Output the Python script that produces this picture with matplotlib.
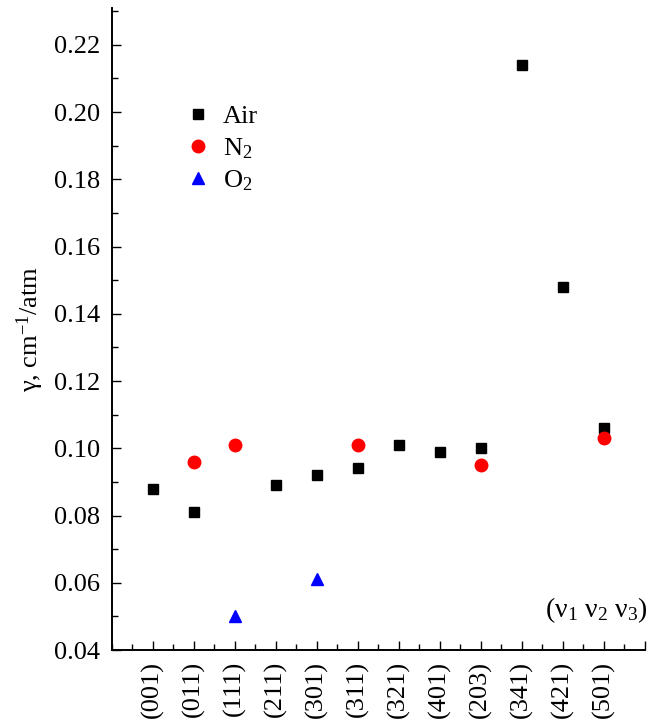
import matplotlib
matplotlib.use("Agg")
import matplotlib.pyplot as plt
from matplotlib.ticker import MultipleLocator, FormatStrFormatter

plt.rcParams['font.family'] = ['Liberation Serif', 'DejaVu Serif']
plt.rcParams['mathtext.fontset'] = 'custom'
plt.rcParams['mathtext.rm'] = 'Liberation Serif'
plt.rcParams['mathtext.it'] = 'Liberation Serif:italic'
plt.rcParams['mathtext.bf'] = 'Liberation Serif:bold'

# Vibrational bands (v1 v2 v3)
bands = ['(001)', '(011)', '(111)', '(211)', '(301)', '(311)',
         '(321)', '(401)', '(203)', '(341)', '(421)', '(501)']

# Broadening coefficients, cm^-1/atm
air_bands = ['(001)', '(011)', '(211)', '(301)', '(311)', '(321)',
             '(401)', '(203)', '(341)', '(421)', '(501)']
air_gamma = [0.088, 0.081, 0.089, 0.092, 0.094, 0.101,
             0.099, 0.100, 0.214, 0.148, 0.106]

n2_bands = ['(011)', '(111)', '(311)', '(203)', '(501)']
n2_gamma = [0.096, 0.101, 0.101, 0.095, 0.103]

o2_bands = ['(111)', '(301)']
o2_gamma = [0.050, 0.061]

pos = {b: i for i, b in enumerate(bands)}

FS = 19

fig = plt.figure(figsize=(6.61, 7.2), dpi=100)
ax = fig.add_axes([0.1687, 0.0972, 0.8064, 0.891])

ax.plot([pos[b] for b in air_bands], air_gamma, linestyle='none',
        marker='s', ms=7.8, color='black', label='Air')
ax.plot([pos[b] for b in n2_bands], n2_gamma, linestyle='none',
        marker='o', ms=9.0, color='#ff0000', label='N$_2$')
ax.plot([pos[b] for b in o2_bands], o2_gamma, linestyle='none',
        marker='^', ms=9.0, color='#0000ff', label='O$_2$')

ax.set_xlim(-1, 12)
ax.set_ylim(0.04, 0.2308)

ax.set_xticks(range(len(bands) + 1))
ax.set_xticklabels(bands + [''], rotation=90)
ax.xaxis.set_minor_locator(MultipleLocator(0.5))
ax.yaxis.set_major_locator(MultipleLocator(0.02))
ax.yaxis.set_minor_locator(MultipleLocator(0.01))
ax.yaxis.set_major_formatter(FormatStrFormatter('%.2f'))

for side in ('top', 'right'):
    ax.spines[side].set_visible(False)
for side in ('left', 'bottom'):
    ax.spines[side].set_linewidth(1.4)

ax.tick_params(which='major', direction='in', length=6.5, width=1.0,
               labelsize=FS, pad=8)
ax.tick_params(which='minor', direction='in', length=4, width=1.0)
ax.tick_params(axis='x', which='major', pad=8)

ax.set_ylabel(r'γ, cm$^{-1}$/atm', fontsize=FS, labelpad=6)

ax.text(1.006, 0.052, r'(ν$_1$ ν$_2$ ν$_3$)', transform=ax.transAxes,
        ha='right', va='baseline', fontsize=20)

ax.legend(loc='upper left', bbox_to_anchor=(0.137, 0.85), frameon=False,
          fontsize=FS, handlelength=1.0, handletextpad=0.45,
          labelspacing=0.3, borderpad=0, borderaxespad=0)

fig.savefig('out.png', dpi=100)
